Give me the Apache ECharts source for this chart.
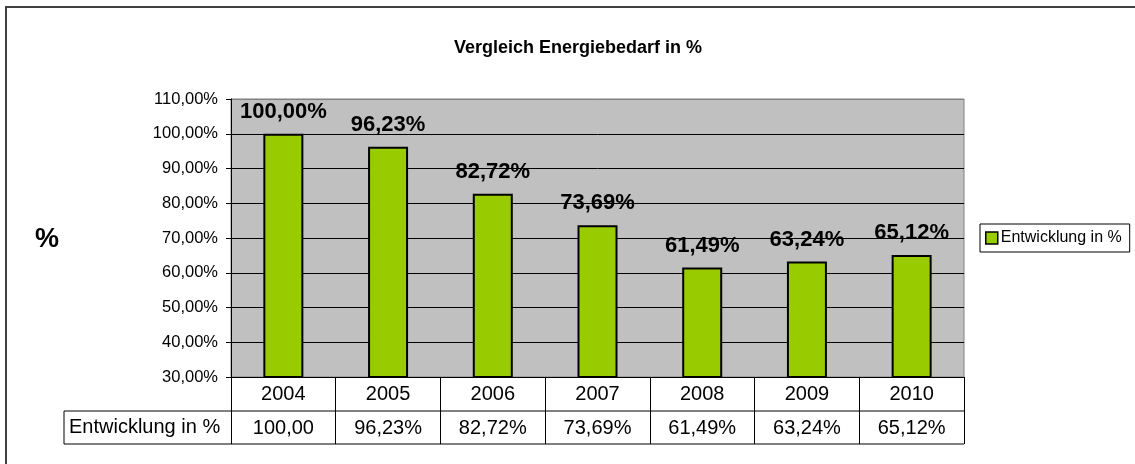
<!DOCTYPE html>
<html>
<head>
<meta charset="utf-8">
<script src="https://cdn.jsdelivr.net/npm/echarts@6/dist/echarts.min.js"></script>
<style>
html,body{margin:0;padding:0;background:#fff;}
#chart{width:1135px;height:464px;}
</style>
</head>
<body>
<div id="chart"></div>
<script>
const years = ['2004', '2005', '2006', '2007', '2008', '2009', '2010'];
const values = [100.00, 96.23, 82.72, 73.69, 61.49, 63.24, 65.12];
const tableValues = ['100,00', '96,23%', '82,72%', '73,69%', '61,49%', '63,24%', '65,12%'];
const seriesName = 'Entwicklung in %';
const titleText = 'Vergleich Energiebedarf in %';
const yMin = 30, yMax = 110, yStep = 10;

const FONT = '"Liberation Sans", Arial, sans-serif';
const fmtPct = v => v.toFixed(2).replace('.', ',') + '%';

const chart = echarts.init(document.getElementById('chart'), null, {renderer: 'canvas'});

const splitColors = [];
for (let v = yMin; v <= yMax; v += yStep) splitColors.push(v === yMax ? '#808080' : '#000000');

chart.setOption({
  animation: false,
  backgroundColor: '#ffffff',
  textStyle: {fontFamily: FONT},
  title: {
    text: titleText,
    left: 573, top: 34, textAlign: 'center',
    textStyle: {fontFamily: FONT, fontSize: 18, fontWeight: 'bold', color: '#000'}
  },
  legend: {
    left: 980, top: 224,
    padding: [6, 8, 6, 5],
    backgroundColor: '#fff',
    borderColor: '#000', borderWidth: 1, borderRadius: 0,
    itemWidth: 12, itemHeight: 12, itemGap: 4,
    icon: 'rect',
    textStyle: {fontFamily: FONT, fontSize: 16, color: '#000', padding: [0, 0, 0, -2]},
    itemStyle: {borderColor: '#000', borderWidth: 1.5},
    data: [seriesName]
  },
  grid: {
    left: 231, right: 171, top: 99, bottom: 87,
    show: true, backgroundColor: '#C0C0C0', borderColor: '#808080', borderWidth: 1
  },
  xAxis: {
    type: 'category',
    data: years,
    axisLine: {show: true, lineStyle: {color: '#000', width: 1}},
    axisTick: {show: true, length: 67, lineStyle: {color: '#000', width: 1}},
    axisLabel: {
      interval: 0, margin: 0,
      formatter: (v, i) => '{y|' + v + '}\n{v|' + tableValues[i] + '}',
      rich: {
        y: {fontFamily: FONT, fontSize: 20, lineHeight: 34, color: '#000'},
        v: {fontFamily: FONT, fontSize: 20, lineHeight: 34, color: '#000'}
      }
    },
    splitLine: {show: false}
  },
  yAxis: {
    type: 'value',
    min: yMin, max: yMax, interval: yStep,
    axisLine: {show: true, lineStyle: {color: '#000', width: 1}},
    axisTick: {show: true, length: 5, lineStyle: {color: '#000'}},
    axisLabel: {
      margin: 13, fontFamily: FONT, fontSize: 16.5, color: '#000',
      formatter: v => fmtPct(v)
    },
    splitLine: {show: true, lineStyle: {color: splitColors, width: 1}}
  },
  series: [{
    name: seriesName,
    type: 'bar',
    data: values,
    barWidth: 40,
    itemStyle: {color: '#99CC00', borderColor: '#000', borderWidth: 2},
    label: {
      show: true, position: 'top', distance: 11,
      fontFamily: FONT, fontSize: 22, fontWeight: 'bold', color: '#000',
      formatter: p => fmtPct(p.value)
    }
  }]
});

// table frame pieces computed from the axes
const x0 = chart.convertToPixel({xAxisIndex: 0}, years[0]);
const step = chart.convertToPixel({xAxisIndex: 0}, years[1]) - x0;
const xL = x0 - step / 2;
const xR = xL + step * years.length;
const yBase = chart.convertToPixel({yAxisIndex: 0}, yMin);
const yTop = chart.convertToPixel({yAxisIndex: 0}, yMax);
const rowH = 34, tableH = 67, labelLeft = 64;
const y1 = yBase + rowH, y2 = yBase + tableH;

chart.setOption({
  graphic: [
    {type: 'rect', shape: {x: 6, y: 7, width: 1140, height: 470}, style: {fill: 'none', stroke: '#404040', lineWidth: 2}, silent: true},
    {type: 'line', shape: {x1: labelLeft, y1: y1, x2: xR, y2: y1}, style: {stroke: '#000', lineWidth: 1}},
    {type: 'line', shape: {x1: labelLeft, y1: y2, x2: xR, y2: y2}, style: {stroke: '#000', lineWidth: 1}},
    {type: 'line', shape: {x1: labelLeft, y1: y1, x2: labelLeft, y2: y2}, style: {stroke: '#000', lineWidth: 1}},
    {type: 'text', x: 69, y: (y1 + y2) / 2, style: {text: seriesName, font: '20px ' + FONT, fill: '#000', verticalAlign: 'middle', align: 'left'}},
    {type: 'text', x: 47, y: (yBase + yTop) / 2 + 2, style: {text: '%', font: 'bold 27px ' + FONT, fill: '#000', verticalAlign: 'middle', align: 'center'}}
  ]
});
</script>
</body>
</html>
